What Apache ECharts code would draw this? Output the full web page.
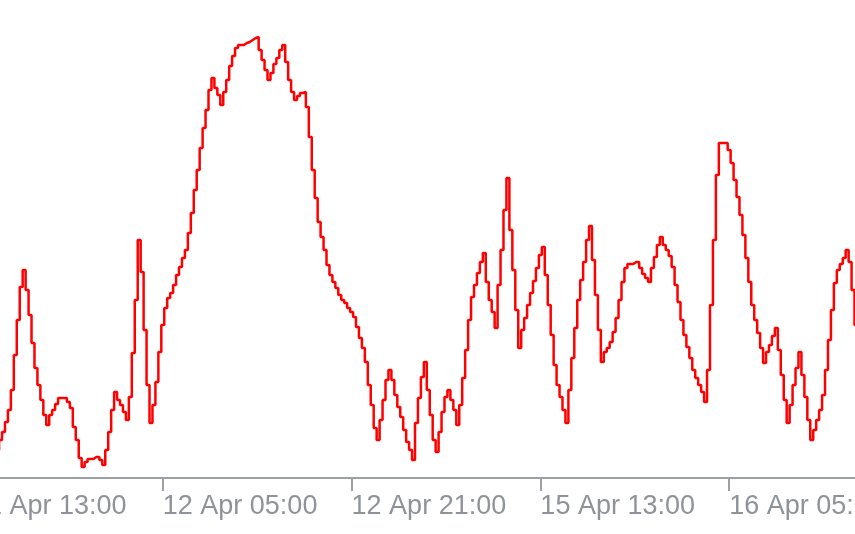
<!DOCTYPE html>
<html><head><meta charset="utf-8">
<script src="https://cdn.jsdelivr.net/npm/echarts@6/dist/echarts.min.js"></script>
<style>html,body{margin:0;padding:0;background:#ffffff}#c{width:855px;height:534px}</style>
</head><body><div id="c"></div>
<script>
// 15-minute bars, first bar 11 Apr 13:00 (weekend skipped)
const barStartUTC = Date.UTC(2024, 3, 11, 13, 0);
const barMinutes = 15;
const barCount = 300;
const tickEvery = 64;
const tickLabels = ['11 Apr 13:00', '12 Apr 05:00', '12 Apr 21:00', '15 Apr 13:00', '16 Apr 05:00'];

// indicator values (first bars are off-screen to the left)
const values = [
  null, null, null, null, null, null, null, null,
  28, 38, 46, 56, 68, 88, 123, 158, 191, 208, 188, 163, 135, 110, 93, 78, 63, 53,
  63, 68, 74, 80, 80, 80, 76, 70, 51, 38, 20, 11, 16, 19, 19, 21, 21, 18, 13, 28,
  46, 68, 86, 78, 73, 66, 58, 81, 125, 178, 238, 206, 148, 93, 55, 73, 96, 126, 153, 170,
  180, 185, 193, 203, 211, 220, 228, 245, 265, 288, 308, 330, 350, 368, 388, 400, 390, 383, 373, 386,
  398, 412, 422, 430, 433, 433, 435, 436, 438, 440, 441, 428, 418, 408, 398, 405, 414, 420, 428, 433,
  416, 398, 386, 378, 382, 385, 386, 371, 341, 308, 280, 256, 241, 228, 213, 203, 196, 190, 183, 178,
  175, 170, 166, 161, 151, 140, 130, 116, 93, 73, 50, 38, 58, 78, 98, 108, 98, 83, 71, 61,
  48, 36, 28, 18, 55, 80, 101, 116, 88, 63, 38, 26, 46, 66, 81, 88, 78, 68, 53, 73,
  100, 128, 158, 181, 193, 205, 216, 225, 196, 178, 166, 150, 193, 228, 268, 300, 248, 208, 168, 130,
  148, 160, 173, 185, 197, 210, 223, 231, 203, 173, 143, 113, 93, 81, 68, 55, 88, 120, 150, 178,
  198, 216, 238, 252, 218, 183, 148, 116, 126, 130, 136, 146, 160, 178, 196, 210, 214, 214, 216, 216,
  210, 204, 200, 196, 210, 221, 233, 241, 233, 228, 222, 211, 193, 176, 158, 143, 131, 120, 108, 100,
  93, 86, 76, 108, 173, 238, 303, 335, 335, 335, 328, 315, 298, 281, 263, 243, 220, 196, 173, 158,
  145, 130, 115, 126, 133, 142, 150, 128, 103, 78, 55, 73, 93, 110, 126, 103, 81, 58, 38, 48,
  58, 68, 83, 108, 138, 168, 195, 208, 214, 220, 228, 216, 188, 153
];

const monthNames = ['Jan','Feb','Mar','Apr','May','Jun','Jul','Aug','Sep','Oct','Nov','Dec'];
function pad(n) { return (n < 10 ? '0' : '') + n; }
const categories = [];
let t = barStartUTC;
while (categories.length < barCount) {
  const d = new Date(t);
  const wd = d.getUTCDay();
  if (wd !== 0 && wd !== 6) {
    categories.push(d.getUTCDate() + ' ' + monthNames[d.getUTCMonth()] + ' ' + pad(d.getUTCHours()) + ':' + pad(d.getUTCMinutes()));
  }
  t += barMinutes * 60000;
}

const chart = echarts.init(document.getElementById('c'), null, { renderer: 'canvas' });
const showTick = function (idx) { return idx % tickEvery === 0; };
chart.setOption({
  animation: false,
  backgroundColor: '#ffffff',
  grid: { left: -26, top: 0, width: 882, height: 478, containLabel: false, outerBoundsMode: 'none' },
  xAxis: {
    type: 'category',
    data: categories,
    boundaryGap: false,
    axisLine: { show: true, lineStyle: { color: '#9ca1a7', width: 2 } },
    axisTick: { show: true, interval: showTick, length: 13, lineStyle: { color: '#9ca1a7', width: 2 } },
    axisLabel: {
      show: true,
      interval: showTick,
      align: 'left',
      margin: 15,
      color: '#8e939a',
      fontFamily: 'Liberation Sans',
      fontSize: 27,
      hideOverlap: false,
      showMinLabel: true,
      showMaxLabel: true,
      formatter: function (v, idx) {
        const k = Math.round(idx / tickEvery);
        return tickLabels[k] !== undefined ? tickLabels[k] : v;
      }
    },
    splitLine: { show: false }
  },
  yAxis: {
    type: 'value',
    min: 0,
    max: 478,
    show: false,
    splitLine: { show: false }
  },
  series: [{
    type: 'line',
    data: values,
    step: 'middle',
    showSymbol: false,
    symbol: 'none',
    clip: true,
    connectNulls: false,
    lineStyle: { color: '#ff0000', width: 2.5 },
    itemStyle: { color: '#ff0000' }
  }]
});
</script>
</body></html>
